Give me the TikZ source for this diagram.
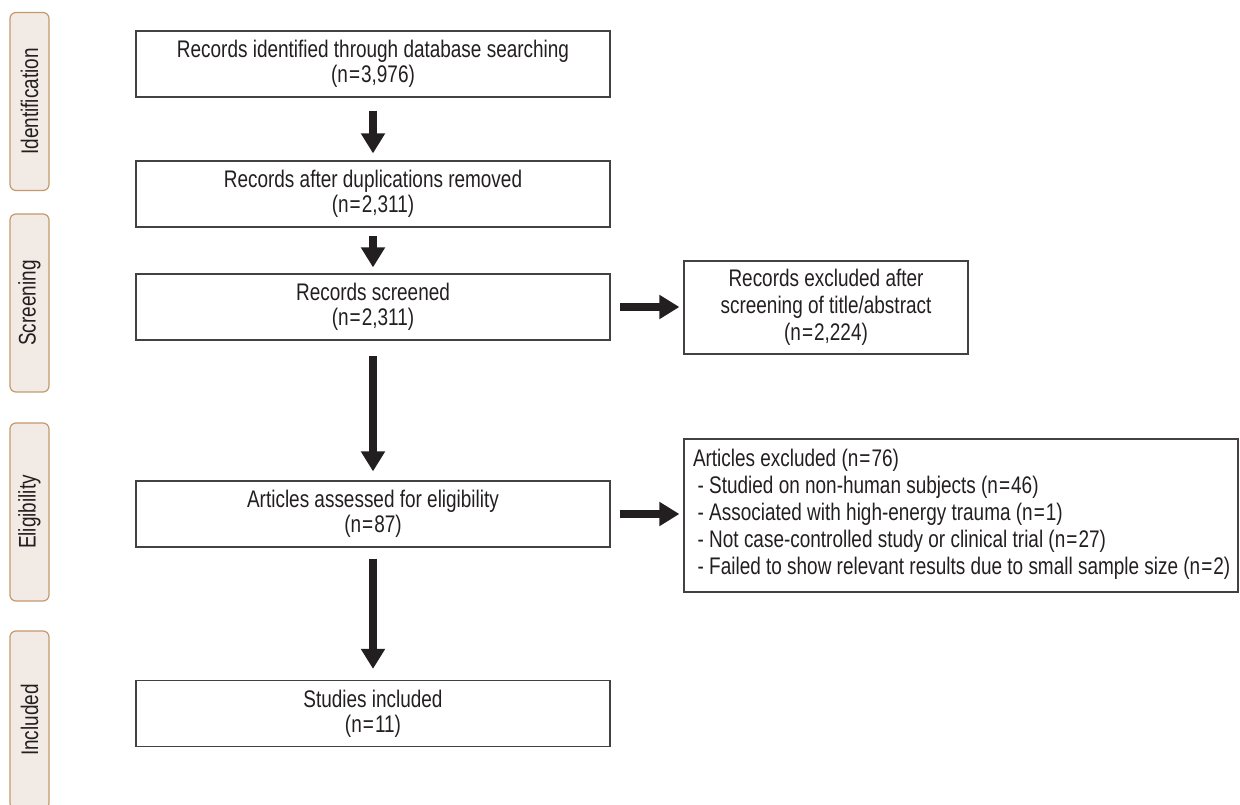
\documentclass[tikz,border=0pt]{standalone}
\usepackage{fontspec}
\setmainfont{Liberation Sans}[FakeStretch=0.79]
\usetikzlibrary{arrows.meta}
\definecolor{tabfill}{HTML}{F2EBE5}
\definecolor{tabdraw}{HTML}{C49A6C}
\definecolor{ink}{HTML}{231F20}
\newcommand{\eqn}{\hspace{0.8pt}=\hspace{0.8pt}}
\begin{document}
\begin{tikzpicture}[x=0.75pt,y=-0.75pt,
  box/.style={draw=ink!85, line width=0.9pt, minimum width=355.5pt, minimum height=49.5pt,
    align=center, inner sep=0pt, text=ink, font=\fontsize{18pt}{19pt}\selectfont},
  sidebox/.style={draw=ink!85, line width=0.9pt, inner sep=0pt, text=ink,
    font=\fontsize{18pt}{20.25pt}\selectfont},
  phase/.style={draw=tabdraw, fill=tabfill, line width=0.9pt, rounded corners=4.5pt,
    minimum width=133.5pt, minimum height=29.25pt, rotate=90, inner sep=0pt,
    text=ink, font=\fontsize{18pt}{19pt}\selectfont},
  bigarrow/.style={draw=ink, line width=6pt, -{Triangle[length=15pt,width=17.25pt]}}
]
\useasboundingbox (0,0) rectangle (1240,805);

% phase tabs
\node[phase] (t1) at (29.5,101.5) {Identification};
\node[phase] (t2) at (29.5,303) {Screening};
\node[phase] (t3) at (29.5,512) {Eligibility};
\node[phase] (t4) at (29.5,720) {Included};

% main flow boxes
\node[box] (b1) at (373,64) {Records identified through database searching\\(n\eqn3,976)};
\node[box] (b2) at (373,194) {Records after duplications removed\\(n\eqn2,311)};
\node[box] (b3) at (373,307) {Records screened\\(n\eqn2,311)};
\node[box] (b4) at (373,514) {Articles assessed for eligibility\\(n\eqn87)};
\node[box] (b5) at (373,713.5) {Studies included\\(n\eqn11)};

% exclusion boxes
\node[sidebox, minimum width=213pt, minimum height=69.75pt, align=center] (r1) at (826,307.5)
  {Records excluded after\\screening of title/abstract\\(n\eqn2,224)};
\node[sidebox, minimum width=415.5pt, minimum height=114.75pt, text width=402pt,
  inner xsep=6.75pt, align=left] (r2) at (961,515.5)
  {\spaceskip=0pt\xspaceskip=0pt\begin{tabular}{@{}l@{}}
   Articles excluded (n\eqn76)\\
   \hspace*{3.5pt}- Studied on non-human subjects (n\eqn46)\\
   \hspace*{3.5pt}- Associated with high-energy trauma (n\eqn1)\\
   \hspace*{3.5pt}- Not case-controlled study or clinical trial (n\eqn27)\\
   \hspace*{3.5pt}- Failed to show relevant results due to small sample size (n\eqn2)
   \end{tabular}};

% arrows
\draw[bigarrow, shorten <=9.75pt, shorten >=5.25pt] (b1) -- (b2);
\draw[bigarrow, shorten <=6pt, shorten >=4.5pt] (b2) -- (b3);
\draw[bigarrow, shorten <=11.25pt, shorten >=6.75pt] (b3) -- (b4);
\draw[bigarrow, shorten <=8.25pt, shorten >=8.25pt] (b4) -- (b5);
\draw[bigarrow, shorten <=6.75pt, shorten >=3pt] (b3.east) -- (b3.east -| r1.west);
\draw[bigarrow, shorten <=6.75pt, shorten >=3pt] (b4.east) -- (b4.east -| r2.west);
\end{tikzpicture}
\end{document}
